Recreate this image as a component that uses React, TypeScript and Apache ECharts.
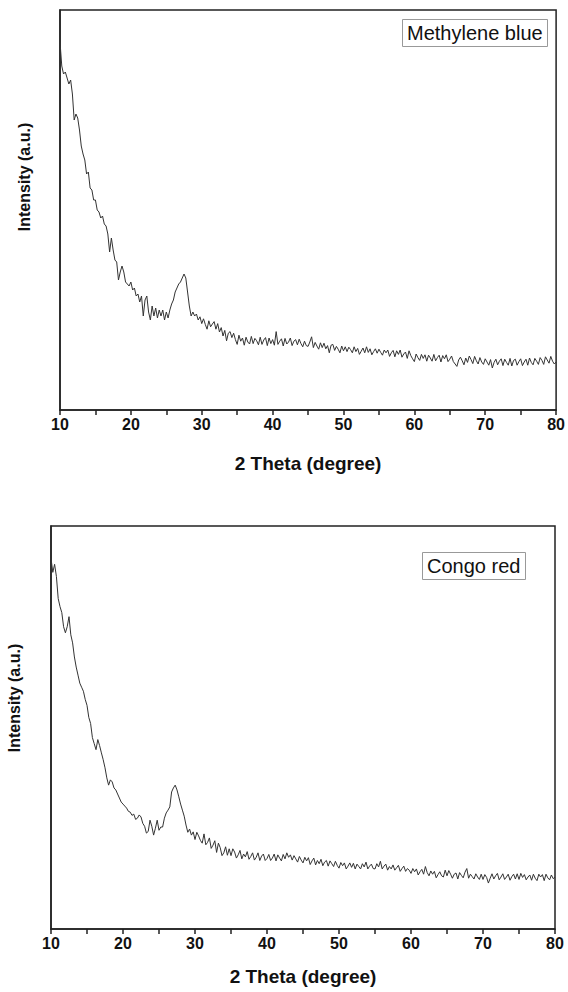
import React, { useEffect, useRef } from "react";
import * as echarts from "echarts";

// Scan grid: 2θ from 10° to 80° in 0.25° steps
const THETA: number[] = Array.from({ length: 281 }, (_, i) => 10 + i * 0.25);

// Methylene blue intensity (arbitrary units), one row per 5°
const MB: number[] = [
  92, 86, 84, 84.5, 83, 81.5, 82.5, 79, 72.5, 74, 73, 70, 66, 64, 62.5, 59, 59.5, 55.5, 55, 52.5,
  52.5, 50, 49.5, 48, 48.5, 46.5, 46, 44, 39.5, 43, 40, 37.5, 37, 32.5, 34.5, 36, 34.5, 32, 31.5, 31,
  32, 30, 30.5, 28.5, 29, 27, 28.5, 23.5, 27.5, 28.5, 24.5, 22.5, 26, 23.5, 25.5, 23, 25, 23.5, 25, 22.5,
  24.5, 23, 25, 26.5, 27.5, 29.5, 30.5, 31.5, 32, 33, 34, 33, 29.5, 26, 23.5, 24.5, 23.5, 24, 22.5, 23.3,
  21.6, 22.8, 21.4, 20.2, 22.3, 20.8, 21.5, 22.1, 20.2, 21.6, 19.5, 20.6, 18.5, 19.9, 17.3, 19.2, 19.6, 18.1, 19.2, 17.6,
  16.4, 18.7, 17.2, 18.0, 16.2, 18.2, 17.0, 16.5, 18.4, 16.6, 17.9, 17.3, 16.3, 18.2, 16.4, 17.5, 18.1, 16.1, 18.0, 16.6,
  17.6, 16.2, 19.6, 16.4, 17.2, 17.8, 16.0, 17.9, 16.5, 17.0, 18.0, 16.1, 17.2, 17.6, 16.3, 17.7, 16.6, 15.8, 17.2, 16.1,
  15.9, 17.0, 18.3, 15.6, 16.9, 16.0, 15.2, 16.8, 15.6, 16.7, 15.3, 16.1, 14.3, 16.2, 16.4, 14.9, 15.9, 15.2, 14.3, 16.0,
  14.8, 15.8, 14.6, 15.7, 15.1, 14.3, 15.8, 14.6, 15.4, 13.9, 14.7, 15.5, 14.3, 15.8, 14.4, 15.3, 13.8, 14.6, 15.3, 14.2,
  15.2, 14.4, 13.7, 15.0, 14.3, 15.0, 13.4, 14.3, 14.9, 13.3, 14.8, 13.9, 15.0, 13.2, 14.0, 14.5, 12.9, 14.8, 13.6, 12.8,
  12.1, 14.0, 13.1, 12.4, 13.9, 12.9, 13.8, 12.2, 13.7, 13.0, 12.2, 13.9, 12.3, 13.1, 13.7, 12.0, 13.6, 12.8, 13.8, 12.1,
  12.7, 13.5, 12.1, 11.5, 10.9, 12.5, 13.2, 12.3, 11.3, 13.0, 11.9, 13.5, 12.6, 11.6, 13.4, 12.3, 11.5, 13.1, 12.0, 11.4,
  12.8, 12.0, 11.2, 12.6, 10.5, 11.9, 12.7, 11.3, 12.2, 12.8, 11.1, 12.7, 11.9, 11.2, 12.9, 11.0, 12.4, 12.7, 11.2, 12.1,
  12.8, 11.1, 12.0, 12.7, 11.2, 13.0, 11.9, 11.3, 12.9, 12.2, 11.4, 13.1, 12.4, 11.4, 13.3, 12.5, 11.7, 13.4, 12.2, 11.5,
  12.0,
];

// Congo red intensity (arbitrary units), one row per 5°
const CR: number[] = [
  92, 88.5, 90.5, 87.5, 82, 80, 78.5, 75, 73.5, 75, 77.5, 73, 71, 67.5, 65, 63, 61, 60, 59, 57,
  55.5, 52.5, 51, 47.5, 46, 44.5, 47, 45.5, 43.7, 42, 40, 37.5, 35.7, 37, 36.5, 35, 34.5, 33.5, 32.5, 31.5,
  31, 30.5, 30, 29.2, 29, 28.2, 28.5, 27.2, 27.5, 28.3, 27.8, 26.2, 25.5, 23.8, 24.2, 27, 25.5, 23.3, 25, 27,
  24.5, 25.3, 25.3, 27.5, 28.8, 29.5, 30.3, 34, 35, 35.7, 34.5, 32.8, 31, 29.5, 28, 25.8, 24, 24.8, 23.3, 24.1,
  22.2, 24.0, 23.1, 22.0, 21.3, 23.6, 20.9, 21.5, 22.6, 20.0, 20.8, 21.9, 19.0, 21.3, 20.2, 18.2, 18.9, 20.4, 18.3, 19.9,
  18.2, 19.9, 19.1, 17.6, 18.4, 19.5, 17.4, 18.6, 17.9, 19.2, 17.3, 18.0, 18.9, 17.1, 17.8, 18.9, 17.0, 18.1, 18.6, 17.0,
  17.5, 18.5, 17.0, 17.6, 18.6, 16.9, 18.4, 17.6, 16.9, 18.5, 17.4, 18.9, 17.8, 18.4, 17.1, 18.2, 17.4, 16.6, 18.0, 17.1,
  16.4, 17.8, 16.9, 17.7, 16.0, 16.9, 17.6, 15.9, 17.0, 16.2, 17.3, 15.7, 16.6, 17.0, 15.6, 16.9, 16.2, 15.5, 16.8, 15.8,
  15.1, 16.5, 15.7, 16.4, 14.9, 15.6, 16.4, 15.3, 16.3, 14.9, 16.1, 15.5, 14.9, 16.2, 15.4, 16.6, 14.9, 15.6, 16.1, 15.0,
  14.9, 16.2, 15.4, 16.8, 14.9, 15.6, 16.1, 14.6, 15.5, 14.9, 15.9, 14.6, 15.2, 15.8, 14.3, 15.0, 15.6, 14.3, 15.0, 14.6,
  13.8, 15.0, 14.2, 14.9, 13.4, 14.2, 14.8, 13.6, 15.5, 14.0, 13.2, 14.4, 13.6, 14.3, 12.7, 13.5, 14.2, 13.2, 12.9, 14.6,
  13.2, 14.5, 13.6, 12.6, 13.6, 13.9, 12.4, 14.0, 13.3, 12.7, 14.1, 15.0, 12.6, 13.6, 13.0, 12.4, 13.7, 12.9, 12.3, 13.6,
  12.3, 13.5, 12.8, 11.4, 12.6, 13.7, 12.4, 13.2, 13.8, 12.2, 12.9, 13.7, 12.3, 12.9, 13.6, 12.1, 13.0, 13.6, 12.4, 13.7,
  12.3, 13.8, 12.8, 13.5, 12.2, 12.9, 13.4, 12.1, 13.6, 12.6, 12.0, 13.6, 12.9, 13.5, 12.0, 13.6, 12.7, 12.2, 13.4, 12.5,
  12.9,
];

const SAMPLE_NAMES: string[] = ["Methylene blue", "Congo red"];
const X_TITLE = "2 Theta (degree)";
const Y_TITLE = "Intensity (a.u.)";

const FONT = "'Liberation Sans', Arial, Helvetica, sans-serif";

function makeX(gridIndex: number, nameGap: number) {
  return {
    type: "value",
    gridIndex,
    min: 10,
    max: 80,
    interval: 10,
    name: X_TITLE,
    nameLocation: "middle",
    nameGap,
    nameTextStyle: { fontFamily: FONT, fontSize: 19, fontWeight: "bold", color: "#111" },
    axisLine: { show: true, onZero: false, lineStyle: { color: "#222", width: 1.5 } },
    axisTick: { show: true, inside: false, length: 5, lineStyle: { color: "#222", width: 1.5 } },
    minorTick: { show: true, splitNumber: 2, length: 5, lineStyle: { color: "#222", width: 1.5 } },
    axisLabel: { fontFamily: FONT, fontSize: 16, fontWeight: "bold", color: "#111", margin: 6 },
    splitLine: { show: false },
    minorSplitLine: { show: false },
  };
}

function makeY(gridIndex: number) {
  return {
    type: "value",
    gridIndex,
    min: 0,
    max: 100,
    axisLine: { show: true, onZero: false, lineStyle: { color: "#222", width: 1.5 } },
    axisTick: { show: false },
    axisLabel: { show: false },
    splitLine: { show: false },
  };
}

function yTitle(x: number, y: number) {
  return {
    type: "text",
    x,
    y,
    rotation: Math.PI / 2,
    style: {
      text: Y_TITLE,
      fontFamily: FONT,
      fontSize: 16,
      fontWeight: "bold",
      fill: "#111",
      align: "center",
      verticalAlign: "middle",
    },
  };
}

export default function App() {
  const ref = useRef<HTMLDivElement>(null);
  useEffect(() => {
    if (!ref.current) return;
    const chart = echarts.init(ref.current, null, { renderer: "svg" });
    const grids = [
      { left: 60, top: 10, width: 498, height: 400 },
      { left: 51, top: 526, width: 504, height: 403 },
    ];
    const boxTitle = (text: string, left: number, top: number) => ({
      text,
      left,
      top,
      padding: [4, 5],
      borderColor: "#999",
      borderWidth: 1,
      textStyle: { fontFamily: FONT, fontSize: 20, fontWeight: "normal", color: "#111" },
    });
    chart.setOption({
      animation: false,
      backgroundColor: "#ffffff",
      title: [boxTitle(SAMPLE_NAMES[0], 402, 19), boxTitle(SAMPLE_NAMES[1], 422, 552)],
      grid: grids.map((g) => ({ ...g, show: true, borderColor: "#222", borderWidth: 1.5, backgroundColor: "transparent" })),
      xAxis: [makeX(0, 44), makeX(1, 38)],
      yAxis: [makeY(0), makeY(1)],
      graphic: [yTitle(24, 177), yTitle(14, 698)],
      series: [
        {
          type: "line",
          xAxisIndex: 0,
          yAxisIndex: 0,
          data: THETA.map((t, i) => [t, MB[i]]),
          showSymbol: false,
          lineStyle: { color: "#333", width: 1 },
        },
        {
          type: "line",
          xAxisIndex: 1,
          yAxisIndex: 1,
          data: THETA.map((t, i) => [t, CR[i]]),
          showSymbol: false,
          lineStyle: { color: "#333", width: 1 },
        },
      ],
    });
    return () => chart.dispose();
  }, []);
  return (
    <div
      ref={ref}
      style={{ position: "fixed", left: 0, top: 0, width: 568, height: 992, background: "#fff" }}
    />
  );
}
